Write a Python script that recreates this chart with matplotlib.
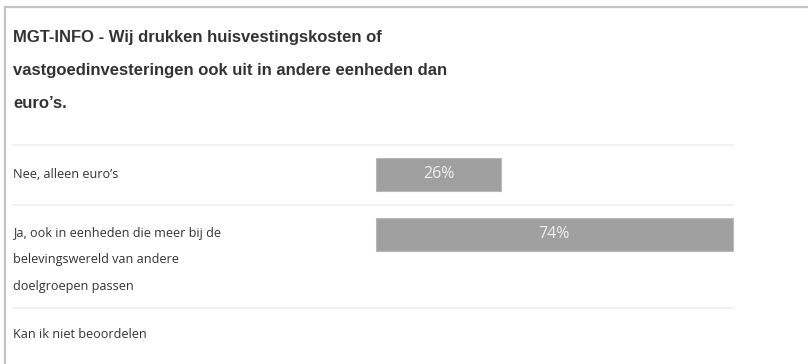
import matplotlib.pyplot as plt
from matplotlib.lines import Line2D

W, H = 808, 364

title = ("MGT-INFO - Wij drukken huisvestingskosten of\n"
         "vastgoedinvesteringen ook uit in andere eenheden dan\n"
         "euro\u2019s.")

answers = [
    "Nee, alleen euro\u2019s",
    "Ja, ook in eenheden die meer bij de\nbelevingswereld van andere\ndoelgroepen passen",
    "Kan ik niet beoordelen",
]
percentages = [26, 74, 0]

# layout in pixels (top-down)
sep_y = [145, 205, 308]
bar_centers = [174.5, 234]
label_y = [175, 260, 335]
bar_x0 = 376
px_per_pct = 4.82

fig = plt.figure(figsize=(W / 100, H / 100), dpi=100)
fig.patch.set_facecolor('white')


def fx(x):
    return x / W


def fy(y):
    return 1 - y / H


# outer card border (left + top)
fig.add_artist(Line2D([fx(5), fx(5)], [fy(7), 0], color='#c4c4c4', lw=1.6))
fig.add_artist(Line2D([fx(5), 1], [fy(7), fy(7)], color='#c4c4c4', lw=1.6))

fig.text(fx(13), fy(30), title, ha='left', va='top',
         fontsize=12.0, fontweight='bold', color='#333333',
         family='Liberation Sans', linespacing=2.5)

# axes: x in percent, y in pixel rows
ax = fig.add_axes([0, 0, 1, 1])
ax.set_xlim(-bar_x0 / px_per_pct, (W - bar_x0) / px_per_pct)
ax.set_ylim(H, 0)
ax.axis('off')

x_left = (13 - bar_x0) / px_per_pct
x_right = (733 - bar_x0) / px_per_pct

for y in sep_y:
    ax.plot([x_left, x_right], [y, y], color='#efefef', lw=1.2)

for p, c in zip(percentages[:2], bar_centers):
    ax.barh(c, p, height=33, left=0, color='#a0a0a0', edgecolor='#b8b8b8', lw=0.8)
    ax.text(p / 2, c, f"{p}%", ha='center', va='center', color='#f0f0f0',
            fontsize=11.5, family='Open Sans')

for lab, y in zip(answers, label_y):
    ax.text(x_left, y, lab, ha='left', va='center',
            fontsize=9.1, color='#333333', family='Open Sans', linespacing=2.35)

fig.savefig('out.png', dpi=100)
